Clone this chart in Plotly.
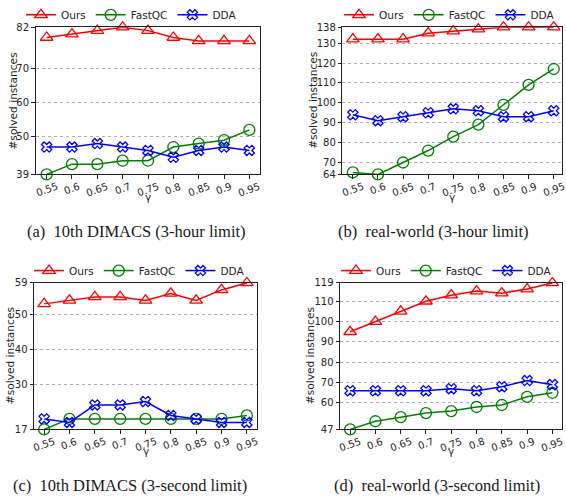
import plotly.graph_objects as go

gamma = [0.55, 0.6, 0.65, 0.7, 0.75, 0.8, 0.85, 0.9, 0.95]
gamma_labels = ["0.55", "0.6", "0.65", "0.7", "0.75", "0.8", "0.85", "0.9", "0.95"]
series_names = ["Ours", "FastQC", "DDA"]

a_ours = [79, 80, 81, 82, 81, 79, 78, 78, 78]
a_fastqc = [39, 42, 42, 43, 43, 47, 48, 49, 52]
a_dda = [47, 47, 48, 47, 46, 44, 46, 47, 46]
a_ticks = [39, 50, 60, 70, 82]

b_ours = [132, 132, 132, 135, 136, 137, 138, 138, 138]
b_fastqc = [65, 64, 70, 76, 83, 89, 99, 109, 117]
b_dda = [94, 91, 93, 95, 97, 96, 93, 93, 96]
b_ticks = [64, 70, 80, 90, 100, 110, 120, 130, 138]

c_ours = [53, 54, 55, 55, 54, 56, 54, 57, 59]
c_fastqc = [17, 20, 20, 20, 20, 20, 20, 20, 21]
c_dda = [20, 19, 24, 24, 25, 21, 20, 19, 19]
c_ticks = [17, 30, 40, 50, 59]

d_ours = [95, 100, 105, 110, 113, 115, 114, 116, 119]
d_fastqc = [47, 51, 53, 55, 56, 58, 59, 63, 65]
d_dda = [66, 66, 66, 66, 67, 66, 68, 71, 69]
d_ticks = [47, 60, 70, 80, 90, 100, 110, 119]

captions = ["(a)\u00a0 10th DIMACS (3-hour limit)", "(b)\u00a0 real-world (3-hour limit)",
            "(c)\u00a0 10th DIMACS (3-second limit)", "(d)\u00a0 real-world (3-second limit)"]

W, H = 566, 503
colors = ["#ff0000", "#008000", "#0000ff"]
symbols = ["triangle-up-open", "circle-open", "x-open"]
sizes = [11, 11, 9]

# panel geometry in pixels: (left, right, top, bottom), x-range
panels = [
    dict(px=(35.5, 260, 20.7, 171.5), xr=[0.528, 0.971], data=(a_ours, a_fastqc, a_dda), ticks=a_ticks,
         ytitle_x=12.7, leg_x=21, leg_y=8, gam_y=195, cap=(136, 230)),
    dict(px=(342.3, 562, 20.7, 171.5), xr=[0.529, 0.9665], data=(b_ours, b_fastqc, b_dda), ticks=b_ticks,
         ytitle_x=313, leg_x=339, leg_y=8, gam_y=195, cap=(433, 230)),
    dict(px=(34, 257, 282.7, 432.7), xr=[0.53, 0.97], data=(c_ours, c_fastqc, c_dda), ticks=c_ticks,
         ytitle_x=10, leg_x=29, leg_y=270, gam_y=455, cap=(130, 490)),
    dict(px=(340, 562, 282.7, 432.7), xr=[0.53, 0.969], data=(d_ours, d_fastqc, d_dda), ticks=d_ticks,
         ytitle_x=310, leg_x=336, leg_y=270, gam_y=455, cap=(437, 490)),
]

fig = go.Figure()
layout = dict(width=W, height=H, margin=dict(l=0, r=0, t=0, b=0),
              paper_bgcolor="white", plot_bgcolor="white",
              font=dict(family="DejaVu Sans", size=10, color="#262626"))
annotations = []

for i, p in enumerate(panels):
    n = "" if i == 0 else str(i + 1)
    l, r, t, b = p["px"]
    xdom = [l / W, r / W]
    ydom = [1 - b / H, 1 - t / H]
    legname = "legend" + n
    for k in range(3):
        fig.add_trace(go.Scatter(
            x=gamma, y=p["data"][k], name=series_names[k], mode="lines+markers",
            line=dict(color=colors[k], width=1.5),
            marker=dict(symbol=symbols[k], size=sizes[k], color=colors[k], line=dict(width=1.3, color=colors[k])),
            xaxis="x" + n, yaxis="y" + n, legend=legname, cliponaxis=False))
    layout["xaxis" + n] = dict(domain=xdom, anchor="y" + n, range=p["xr"], tickvals=gamma, showticklabels=False,
                               showgrid=False, showline=True, linecolor="#222", linewidth=1,
                               mirror=True, ticks="outside", ticklen=3.5, tickcolor="#222", zeroline=False)
    yr = [p["ticks"][0], p["ticks"][-1]]
    layout["yaxis" + n] = dict(domain=ydom, anchor="x" + n, range=yr, tickvals=p["ticks"],
                               showgrid=True, gridcolor="#b0b0b0", griddash="dot", gridwidth=0.8,
                               showline=True, linecolor="#222", linewidth=1, mirror=True, ticks="outside",
                               ticklen=3.5, tickcolor="#222", zeroline=False, tickfont=dict(size=10))
    layout[legname] = dict(orientation="h", x=p["leg_x"] / W, xanchor="left", y=1 - p["leg_y"] / H,
                           yanchor="middle", bgcolor="rgba(0,0,0,0)", font=dict(size=10.5, color="#262626"),
                           tracegroupgap=0)
    # rotated x tick labels, centred under each tick (as in the reference)
    for gv, gl in zip(gamma, gamma_labels):
        annotations.append(dict(text=gl, x=gv, xref="x" + n, y=1 - (b + 4) / H, yref="paper",
                                textangle=-20, showarrow=False, xanchor="center", yanchor="top",
                                font=dict(size=10, color="#262626")))
    annotations.append(dict(text="#solved instances", x=p["ytitle_x"] / W, y=1 - ((t + b) / 2) / H,
                            xref="paper", yref="paper", textangle=-90, showarrow=False,
                            font=dict(size=10.6, color="#262626"), xanchor="center", yanchor="middle"))
    annotations.append(dict(text="γ", x=((l + r) / 2) / W, y=1 - p["gam_y"] / H, xref="paper", yref="paper",
                            showarrow=False, font=dict(size=10.5, color="#262626"), xanchor="center", yanchor="middle"))
    annotations.append(dict(text=captions[i], x=p["cap"][0] / W, y=1 - p["cap"][1] / H, xref="paper", yref="paper",
                            showarrow=False, font=dict(family="Liberation Serif", size=16.5, color="#1a1a1a"),
                            xanchor="center", yanchor="middle"))

layout["annotations"] = annotations
layout["showlegend"] = True
fig.update_layout(**layout)
fig.write_html("out.html", config={"displayModeBar": False},
               post_script="document.body.style.margin='0';document.body.style.overflow='hidden';")
